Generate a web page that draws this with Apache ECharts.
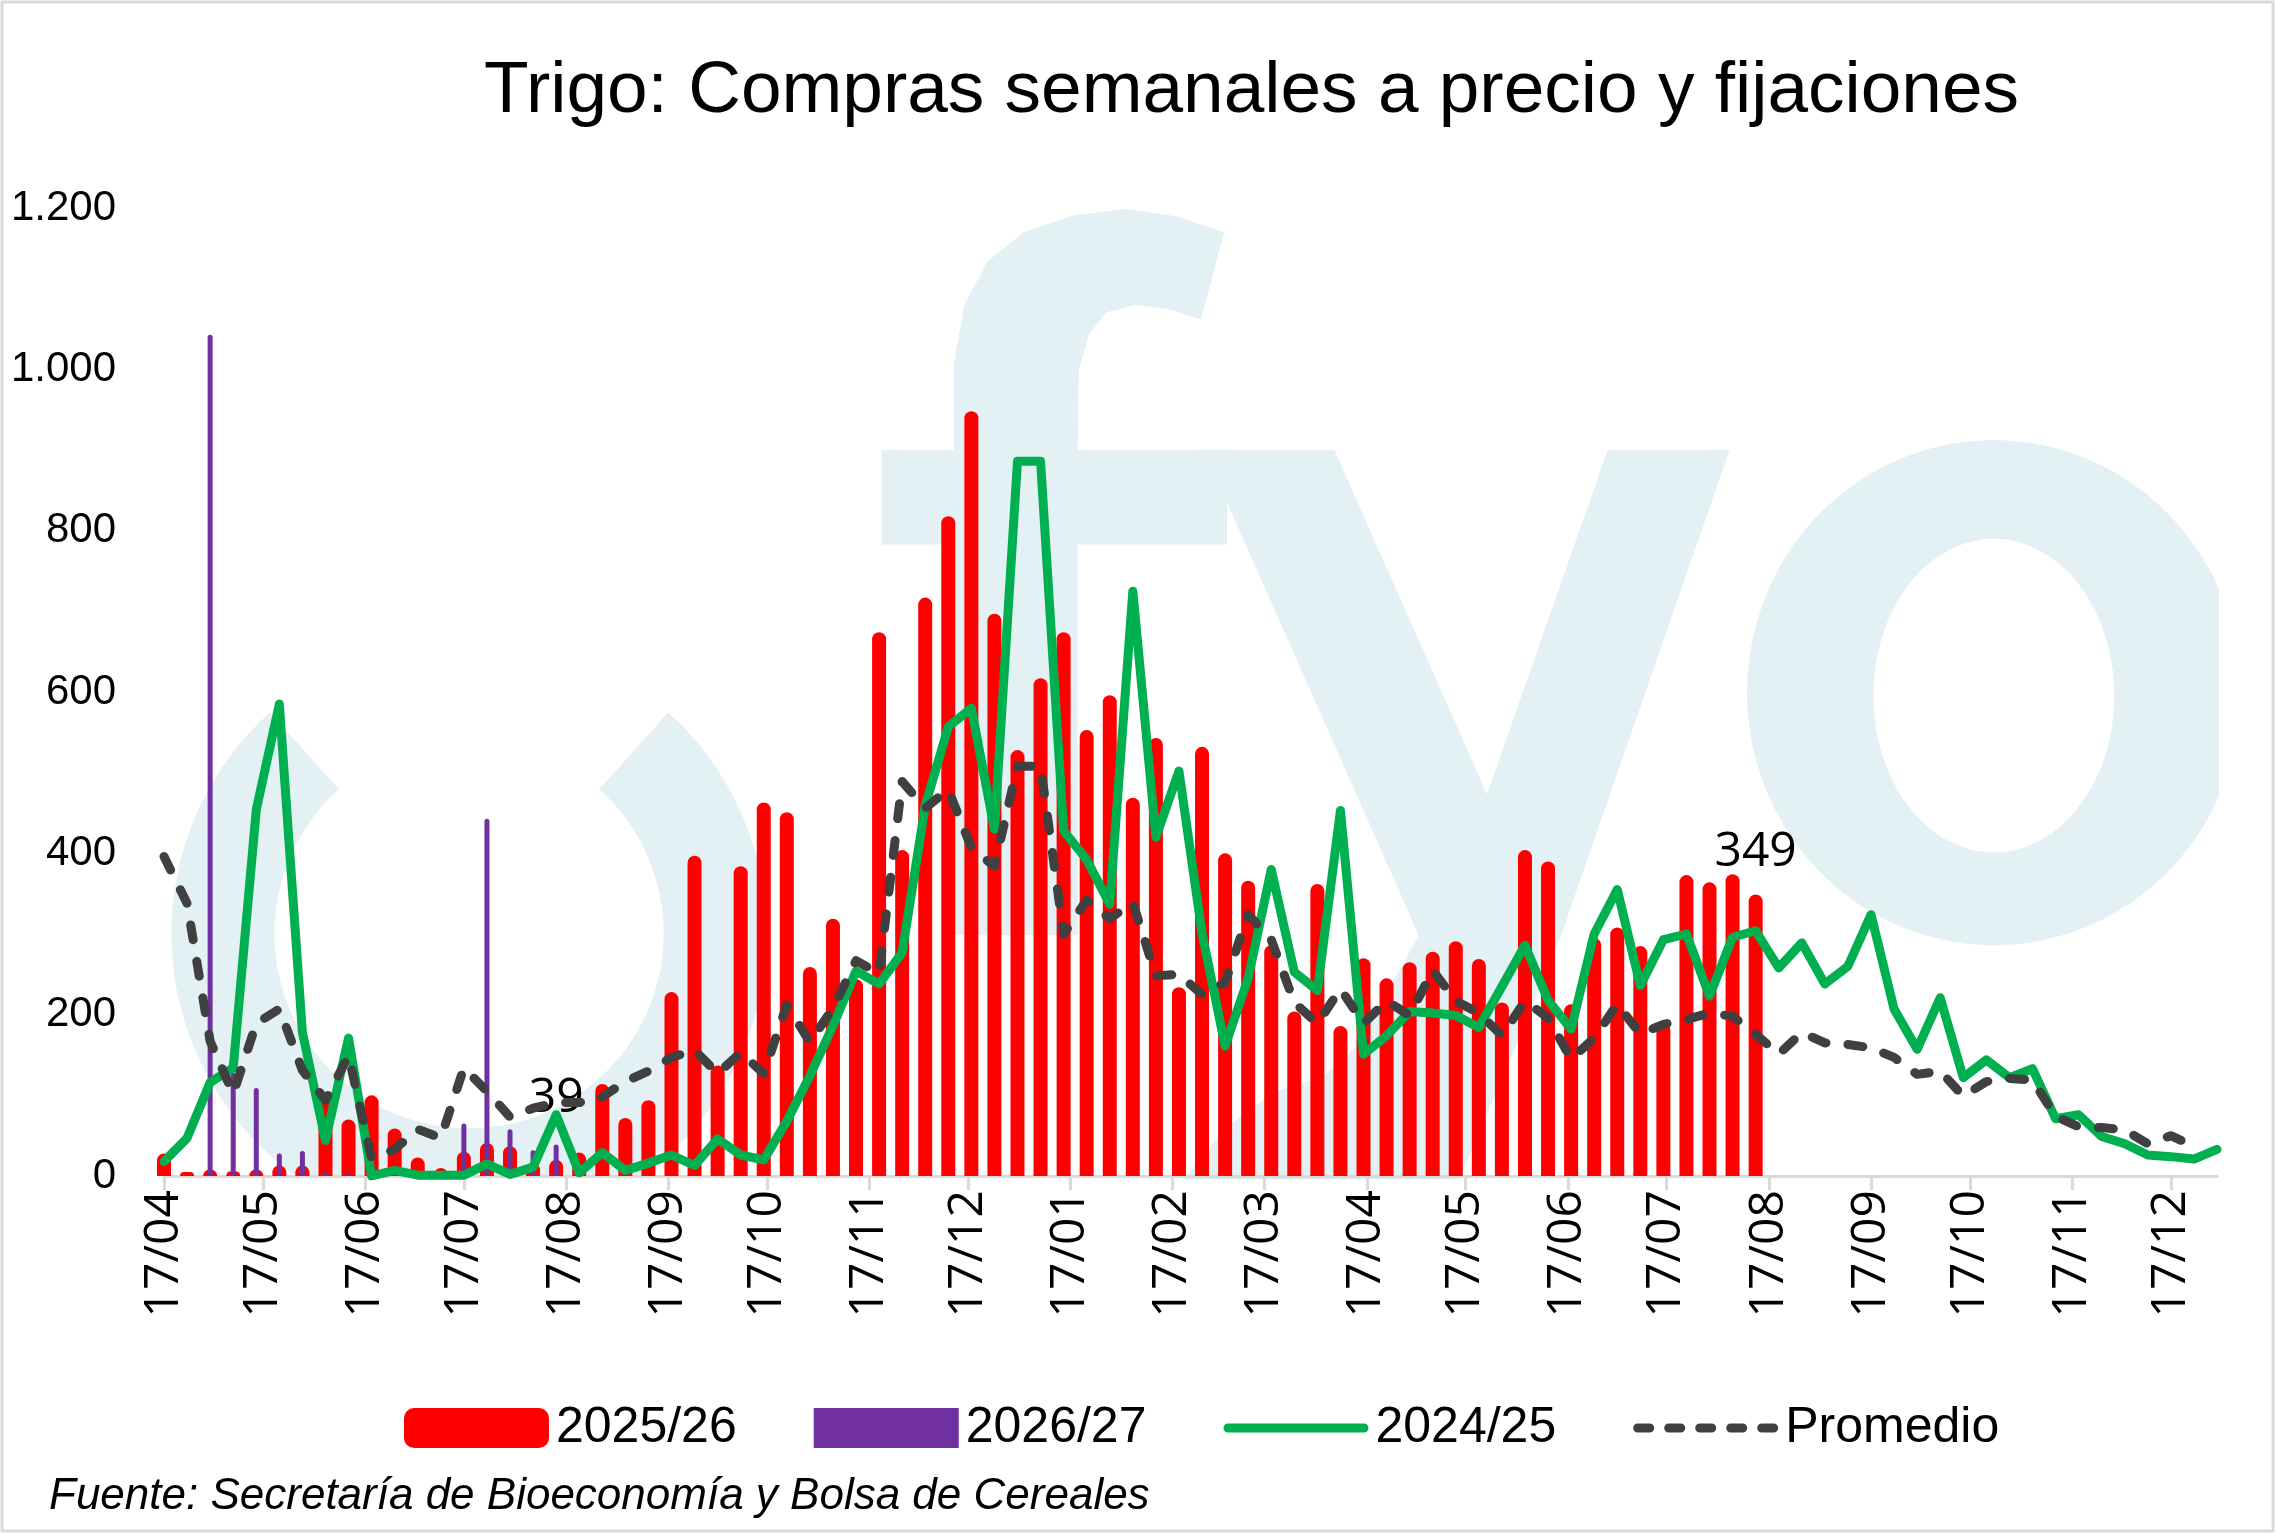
<!DOCTYPE html>
<html>
<head>
<meta charset="utf-8">
<script src="https://cdn.jsdelivr.net/npm/echarts@6/dist/echarts.min.js"></script>
<style>
html,body{margin:0;padding:0;background:#ffffff;}
#chart{width:2277px;height:1535px;}
</style>
</head>
<body>
<div id="chart"></div>
<script>
// ---------------- DATA ----------------
const tickDates = ['2025-04-17','2025-05-17','2025-06-17','2025-07-17','2025-08-17','2025-09-17','2025-10-17',
  '2025-11-17','2025-12-17','2026-01-17','2026-02-17','2026-03-17','2026-04-17','2026-05-17','2026-06-17',
  '2026-07-17','2026-08-17','2026-09-17','2026-10-17','2026-11-17','2026-12-17'];
const tickLabels = ['17/04','17/05','17/06','17/07','17/08','17/09','17/10','17/11','17/12','17/01','17/02',
  '17/03','17/04','17/05','17/06','17/07','17/08','17/09','17/10','17/11','17/12'];

// weekly values (one per week starting 17/04)
const campana2526 = [28,5,8,6,8,13,13,95,70,100,59,23,10,30,41,37,16,20,29,114,
  72,94,228,397,137,384,463,451,259,319,244,674,404,717,818,948,697,528,617,674,
  553,596,469,543,234,532,400,366,286,204,362,186,270,245,265,278,291,269,215,404,
  390,213,295,308,285,190,373,364,374,349];
const campana2627 = [null,null,1043,128,109,28,31,5,3,0,0,0,0,65,443,58,32,39];
const campana2425 = [18,47,116,134,454,585,178,44,171,0,7,1,1,1,15,2,11,76,4,29,
  7,16,26,13,46,26,20,68,124,186,254,238,277,459,557,580,430,886,886,428,
  392,337,725,420,502,301,161,245,380,253,230,453,151,174,204,202,199,184,235,286,
  218,182,300,355,236,293,300,223,296,304,258,289,238,260,324,207,157,221,122,144,
  122,133,71,76,49,40,26,24,21,33];
const promedio = [396,338,167,102,189,207,131,94,149,22,33,58,47,134,105,73,84,91,91,98,
  117,130,147,156,127,153,127,212,166,208,267,251,489,456,479,407,384,508,508,300,
  342,319,339,248,250,225,240,324,293,215,189,232,189,217,199,255,217,202,174,217,
  196,145,171,213,176,188,194,202,198,176,151,178,165,163,159,147,126,130,99,117,
  121,119,74,61,60,57,40,50,37];
const seriesNames = ['2025/26','2026/27','2024/25','Promedio'];

// ---------------- HELPERS ----------------
const WEEK = 7*86400000;
const t0 = Date.parse(tickDates[0]);
const tickPos = tickDates.map(d => (Date.parse(d) - t0) / WEEK);
const pairs = arr => arr.map((v,i) => [i, v]);
const K = 2277/1568;
const pts = list => list.map(p => [p[0]*K, p[1]*K]);
function ellipsePts(cx, cy, rx, ry){
  const out = [];
  for(let a=0;a<360;a+=4){ const r=a*Math.PI/180; out.push([(cx+rx*Math.cos(r))*K,(cy+ry*Math.sin(r))*K]); }
  return out;
}
const WM = '#e3f1f5';
const FONT = 'Liberation Sans';
const NUMFONT = 'Open Sans';
const GREEN = '#00b050', GREY = '#404040', RED = '#ff0000', PURPLE = '#7030a0';

const redData = pairs(campana2526);
const lastRed = redData.length-1;
redData[lastRed] = {value: redData[lastRed], label:{show:true, position:'top', distance:18,
  fontFamily:NUMFONT, fontSize:48, color:'#000'}};
const purpleData = pairs(campana2627);
const lastPurple = purpleData.length-1;
purpleData[lastPurple] = {value: purpleData[lastPurple], label:{show:true, position:'top', distance:22,
  fontFamily:NUMFONT, fontSize:48, color:'#000'}};

// legend icons (line and dashed line)
const lineIcon = 'path://M4,0 L141,0 A4.5,4.5 0 0 1 141,9 L4,9 A4.5,4.5 0 0 1 4,0 Z';
let dashIcon = 'path://';
for(let i=0;i<5;i++){ const x=i*31; dashIcon += `M${x+4},0 L${x+16},0 A4.5,4.5 0 0 1 ${x+16},9 L${x+4},9 A4.5,4.5 0 0 1 ${x+4},0 Z `; }

const chart = echarts.init(document.getElementById('chart'), null, {renderer:'canvas'});
const xCommon = { type:'value', min:0, max:89, gridIndex:0 };
const option = {
  backgroundColor:'#ffffff',
  animation:false,
  title:[
    {text:'Trigo: Compras semanales a precio y fijaciones', left:479, top:50,
     textStyle:{fontFamily:FONT, fontSize:73, fontWeight:'normal', color:'#000'}},
    {text:'Fuente: Secretaría de Bioeconomía y Bolsa de Cereales', left:44, top:1470,
     textStyle:{fontFamily:FONT, fontSize:44, fontStyle:'italic', fontWeight:'normal', color:'#000'}}
  ],
  grid:{left:164, right:60, top:208, bottom:359, containLabel:false},
  legend:{
    left:399, top:1398, itemWidth:145, itemHeight:40, itemGap:77,
    data:[
      {name:seriesNames[0], icon:'roundRect', itemStyle:{color:RED}},
      {name:seriesNames[1], icon:'rect', itemStyle:{color:PURPLE}},
      {name:seriesNames[2], icon:lineIcon, itemStyle:{color:GREEN}},
      {name:seriesNames[3], icon:dashIcon, itemStyle:{color:GREY}}
    ],
    textStyle:{fontFamily:FONT, fontSize:50, color:'#000', padding:[0,0,0,2]}
  },
  xAxis:[
    Object.assign({}, xCommon, {
      axisLine:{show:true, lineStyle:{color:'#d9d9d9', width:3}},
      axisTick:{show:true, customValues:tickPos, length:14, lineStyle:{color:'#d9d9d9', width:3}},
      axisLabel:{show:true, customValues:tickPos, rotate:90, margin:14,
        fontFamily:NUMFONT, fontSize:48, color:'#000',
        formatter:function(v){
          let best=0, bd=1e9;
          tickPos.forEach((p,i)=>{const d=Math.abs(p-v); if(d<bd){bd=d;best=i;}});
          return tickLabels[best];
        }},
      splitLine:{show:false}
    }),
    Object.assign({}, xCommon, {show:false, splitLine:{show:false}})
  ],
  yAxis:{
    type:'value', min:0, max:1200, interval:200,
    axisLine:{show:false}, axisTick:{show:false}, splitLine:{show:false},
    axisLabel:{margin:48, fontFamily:FONT, fontSize:42, color:'#000',
      formatter:v => String(v).replace(/\B(?=(\d{3})+(?!\d))/g,'.')}
  },
  series:[
    {name:seriesNames[0], type:'bar', xAxisIndex:0, data:redData, barWidth:14,
     itemStyle:{color:RED, borderRadius:[7,7,0,0]}, z:3},
    {name:seriesNames[1], type:'bar', xAxisIndex:1, data:purpleData, barWidth:5,
     itemStyle:{color:PURPLE, borderRadius:[3,3,0,0]}, z:4},
    {name:seriesNames[2], type:'line', xAxisIndex:0, data:pairs(campana2425), symbol:'none', showSymbol:false,
     lineStyle:{color:GREEN, width:9, cap:'round', join:'round'}, itemStyle:{color:GREEN}, z:5},
    {name:seriesNames[3], type:'line', xAxisIndex:0, data:pairs(promedio), symbol:'none', showSymbol:false,
     lineStyle:{color:GREY, width:9, type:[15,22], cap:'round', join:'round'}, itemStyle:{color:GREY}, z:6}
  ],
  graphic:[
    // watermark logo
    {type:'sector', z:-10, silent:true, shape:{cx:323*K, cy:643*K, r:205*K, r0:134*K,
      startAngle:-48*Math.PI/180, endAngle:228*Math.PI/180, clockwise:true}, style:{fill:WM}},
    {type:'polygon', z:-10, silent:true, shape:{points:pts([[657,644],[657,375],[607,375],[607,310],[657,310],[657,250],
      [664,210],[680,180],[705,160],[740,148],[776,144],[810,149],[843,160],[827,220],[805,213],[782,210],[762,215],
      [750,230],[743,255],[742,310],[845,310],[845,375],[742,375],[742,644]])}, style:{fill:WM}},
    {type:'polygon', z:-10, silent:true, shape:{points:pts([[829,310],[919,310],[1024,547],[1107,310],[1191,310],
      [1075,644],[1040,730],[1005,812],[815,812],[845,776],[877,752],[910,742],[935,720],[977,644]])}, style:{fill:WM}},
    {type:'polygon', z:-10, silent:true, shape:{points:ellipsePts(1373,477,170,174)}, style:{fill:WM}},
    {type:'polygon', z:-9, silent:true, shape:{points:ellipsePts(1373,479,83,108)}, style:{fill:'#ffffff'}},
    // clip watermark to plot area
    {type:'rect', z:-8, silent:true, shape:{x:150, y:1178, width:700, height:120}, style:{fill:'#ffffff'}},
    {type:'rect', z:-8, silent:true, shape:{x:2219, y:150, width:54, height:1100}, style:{fill:'#ffffff'}},
    // chart border
    {type:'rect', z:100, silent:true, shape:{x:2, y:2, width:2271, height:1529},
      style:{fill:null, stroke:'#d9d9d9', lineWidth:3}}
  ]
};
chart.setOption(option);
</script>
</body>
</html>
